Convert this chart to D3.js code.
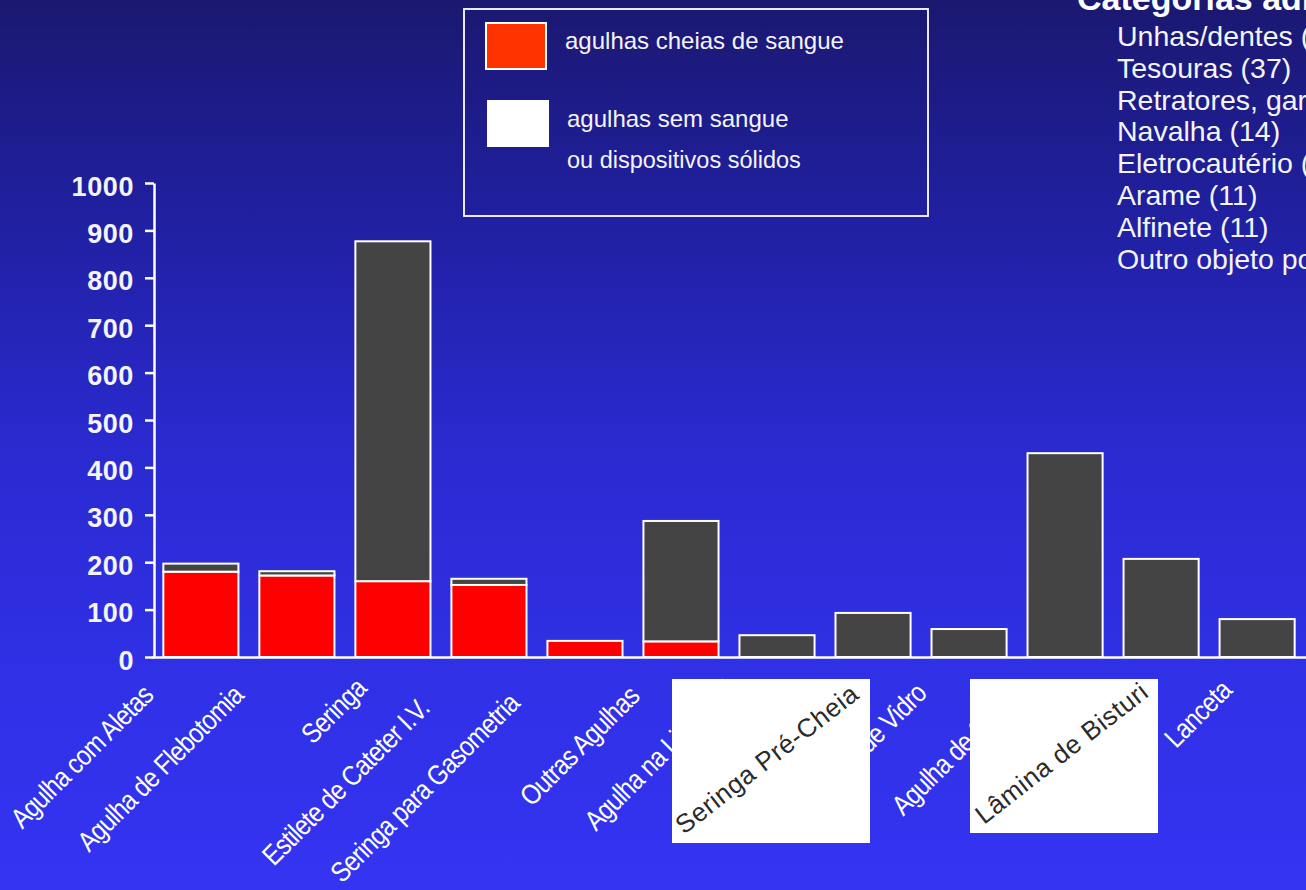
<!DOCTYPE html>
<html>
<head>
<meta charset="utf-8">
<script src="https://cdn.jsdelivr.net/npm/d3@7"></script>
<style>
  html, body { margin: 0; padding: 0; overflow: hidden; background: #2a2ad0; }
  svg { display: block; }
</style>
</head>
<body>
<svg id="chart" width="1306" height="890"></svg>
<script>
// ---------------- DATA ----------------
const categories = [
  "Agulha com Aletas", "Agulha de Flebotomia", "Seringa", "Estilete de Cateter I.V.",
  "Seringa para Gasometria", "Outras Agulhas", "Agulha na Linha I.V.", "Seringa Pré-Cheia",
  "Tubo de Vidro", "Agulha de Sutura", "Lâmina de Bisturi", "Lanceta"
];
const bloodFilled = [180, 172, 160, 152, 34, 33, 0, 0, 0, 0, 0, 0];
const otherDevices = [17, 9, 717, 13, 0, 254, 46, 93, 59, 430, 207, 80];
const yTicks = [0, 100, 200, 300, 400, 500, 600, 700, 800, 900, 1000];
const legendLabels = ["agulhas cheias de sangue", "agulhas sem sangue", "ou dispositivos sólidos"];
const sideTitle = "Categorias adicionais:";
const sideItems = [
  "Unhas/dentes (44)", "Tesouras (37)", "Retratores, garfos (21)", "Navalha (14)",
  "Eletrocautério (12)", "Arame (11)", "Alfinete (11)", "Outro objeto pontiagudo (10)"
];
const boxedCategories = ["Seringa Pré-Cheia", "Lâmina de Bisturi"];

// ---------------- LAYOUT ----------------
const W = 1306, H = 890;
const FONT = "'Liberation Sans', Arial, Helvetica, sans-serif";
// label end-point nudges: [dx from band centre, absolute baseline y]
const labelNudge = [[-46,697],[-52,697],[-25,690],[-58,710],[-64,705],[-40,698],
                    [-39,690],[0,0],[-41,695],[-38,693],[0,0],[-24,692]];
const boxes = [
  {x: 672, y: 679, w: 198, h: 164, tx: 684, ty: 835},
  {x: 970, y: 679, w: 188, h: 154, tx: 984, ty: 825}
];

const svg = d3.select("#chart");
const defs = svg.append("defs");
const grad = defs.append("linearGradient").attr("id", "bg")
  .attr("x1", 0).attr("y1", 0).attr("x2", 0).attr("y2", 1);
[[0, "#1b1870"], [0.25, "#2020a2"], [0.5, "#2a2ad0"], [0.75, "#3030e6"], [1, "#3434f2"]]
  .forEach(([o, c]) => grad.append("stop").attr("offset", o).attr("stop-color", c));
svg.append("rect").attr("width", W).attr("height", H).attr("fill", "url(#bg)");

const x = d3.scaleBand().domain(categories).range([152, 1306])
  .paddingInner(0.218).paddingOuter(0.118);
const y = d3.scaleLinear().domain([0, 1000]).range([657, 183]);

// stacked bars
const table = categories.map((c, i) => ({cat: c, blood: bloodFilled[i], other: otherDevices[i]}));
const stack = d3.stack().keys(["blood", "other"])(table);
const colors = {blood: "#ff0000", other: "#444444"};

const gBars = svg.append("g");
stack.forEach(layer => {
  gBars.selectAll(null)
    .data(layer.filter(d => d[1] - d[0] > 0))
    .join("rect")
    .attr("x", d => x(d.data.cat))
    .attr("width", x.bandwidth())
    .attr("y", d => y(d[1]))
    .attr("height", d => y(d[0]) - y(d[1]))
    .attr("fill", colors[layer.key])
    .attr("stroke", "#ffffff")
    .attr("stroke-width", 2);
});

// y axis
const yAxis = svg.append("g").attr("transform", "translate(154,0)")
  .call(d3.axisLeft(y).tickValues(yTicks).tickFormat(d3.format("d"))
    .tickSize(9).tickPadding(11).tickSizeOuter(0));
yAxis.selectAll("path, line").attr("stroke", "#ffffff").attr("stroke-width", 2.5);
yAxis.selectAll("text")
  .attr("fill", "#f4f4f8").attr("font-family", FONT).attr("font-weight", "bold")
  .attr("font-size", 27).attr("letter-spacing", 0.6).attr("dy", "0.45em");

// x axis
const xAxis = svg.append("g").attr("transform", "translate(0,657)")
  .call(d3.axisBottom(x).tickSize(0).tickSizeOuter(0)
    .tickFormat(d => boxedCategories.includes(d) ? "" : d));
xAxis.select("path").attr("stroke", "#ffffff").attr("stroke-width", 2.5);
xAxis.selectAll("text")
  .attr("fill", "#ffffff").attr("font-family", FONT).attr("font-size", 28)
  .attr("letter-spacing", -0.8)
  .attr("text-anchor", "end")
  .attr("x", 0).attr("y", 0).attr("dy", 0)
  .attr("transform", (d, i) => `translate(${labelNudge[i][0]},${labelNudge[i][1] - 657}) rotate(-45) scale(0.86,1)`);

// white patch boxes with replacement labels
boxes.forEach((b, i) => {
  svg.append("rect").attr("x", b.x).attr("y", b.y).attr("width", b.w).attr("height", b.h)
    .attr("fill", "#ffffff");
  svg.append("text")
    .attr("transform", `translate(${b.tx},${b.ty}) rotate(-38)`)
    .attr("font-family", FONT).attr("font-size", 26).attr("letter-spacing", 0.6)
    .attr("fill", "#2a2a2a")
    .text(boxedCategories[i]);
});

// legend
const lg = svg.append("g");
lg.append("rect").attr("x", 464).attr("y", 9).attr("width", 464).attr("height", 207)
  .attr("fill", "none").attr("stroke", "#ffffff").attr("stroke-width", 1.8);
lg.append("rect").attr("x", 486).attr("y", 23).attr("width", 60).attr("height", 46)
  .attr("fill", "#ff3300").attr("stroke", "#ffffff").attr("stroke-width", 2);
lg.append("rect").attr("x", 487).attr("y", 100).attr("width", 62).attr("height", 47)
  .attr("fill", "#ffffff");
[[565, 49], [567, 127], [567, 168]].forEach(([tx, ty], i) => {
  lg.append("text").attr("x", tx).attr("y", ty)
    .attr("font-family", FONT).attr("font-size", i === 2 ? 23.5 : 24)
    .attr("fill", "#f4f4f8").text(legendLabels[i]);
});

// side list (clipped by page edge, as in the source slide)
svg.append("text").attr("x", 1077).attr("y", 10)
  .attr("font-family", FONT).attr("font-weight", "bold").attr("font-size", 34)
  .attr("fill", "#ffffff").text(sideTitle);
sideItems.forEach((t, i) => {
  svg.append("text").attr("x", 1117).attr("y", 46 + i * 31.8)
    .attr("font-family", FONT).attr("font-size", 28.5)
    .attr("fill", "#f4f4f8").text(t);
});
</script>
</body>
</html>
